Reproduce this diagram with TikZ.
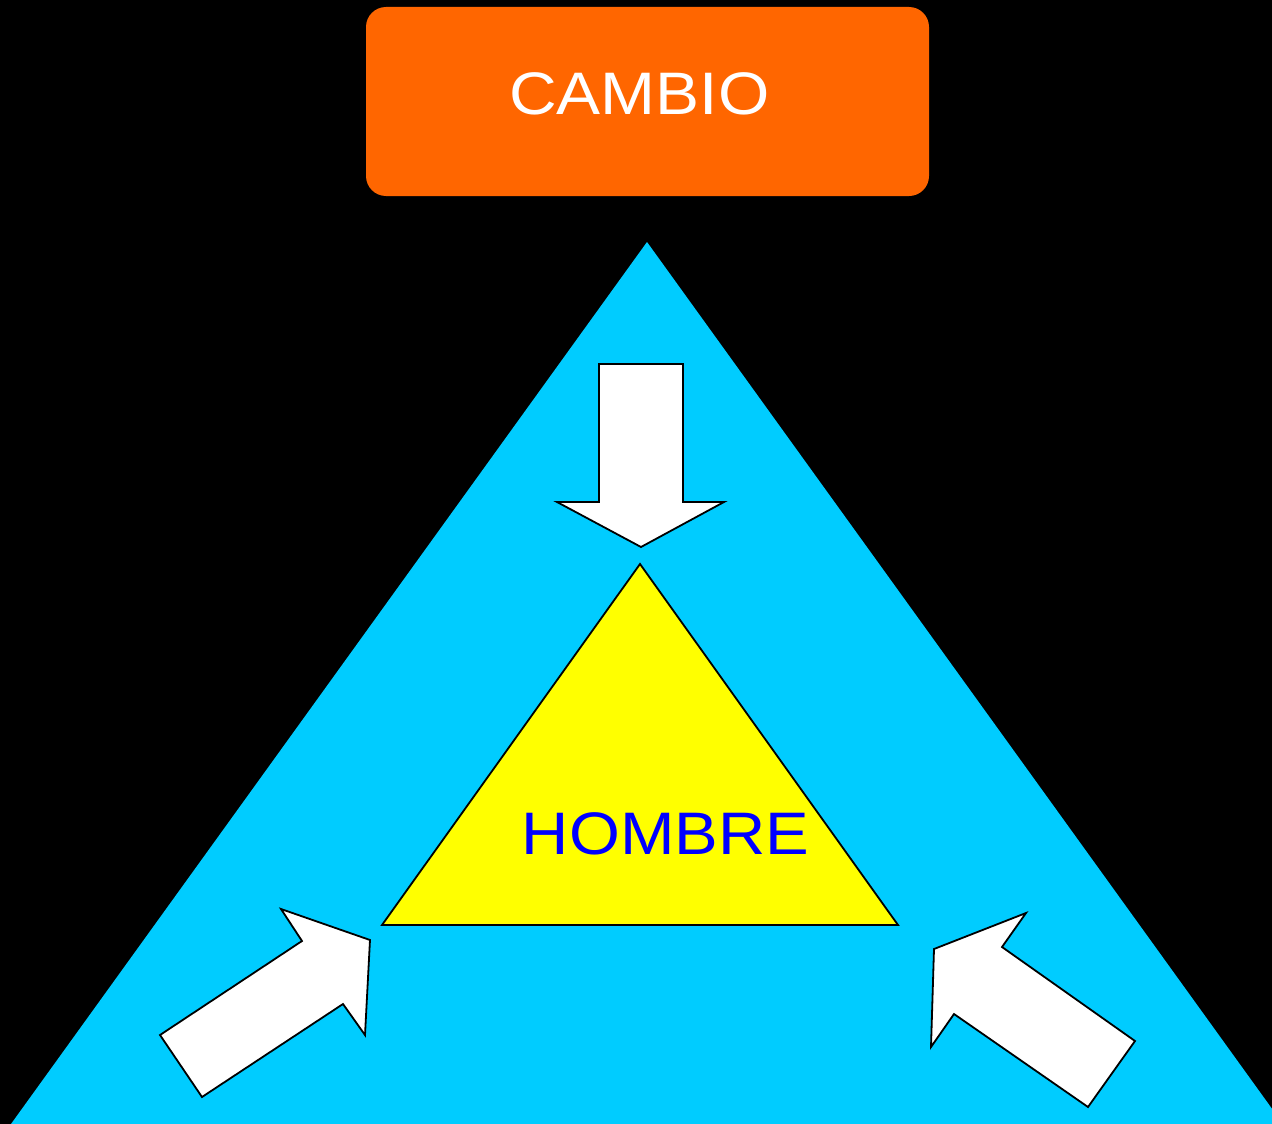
\documentclass[tikz,border=0pt]{standalone}
\usepackage{fontspec}
\usepackage{graphicx}
\setmainfont{Liberation Sans}
\definecolor{skyb}{RGB}{0,204,255}
\definecolor{orng}{RGB}{255,102,0}
\definecolor{yell}{RGB}{255,255,0}
\definecolor{txtblue}{RGB}{0,0,255}
\tikzset{
  arrowshape/.style={fill=white, draw=black, line width=1.8pt, line join=miter},
  labeltext/.style={inner sep=0pt, anchor=base, font=\fontsize{60}{60}\selectfont},
}
\begin{document}
\begin{tikzpicture}[x=1pt,y=-1pt]
\useasboundingbox (0,0) rectangle (1272,1124);
\fill[black] (0,0) rectangle (1272,1124);
\begin{scope}
\clip (0,0) rectangle (1272,1124);
% big blue triangle
\fill[skyb] (647,242) -- (1283,1124) -- (11,1124) -- cycle;
\end{scope}
% orange box
\fill[orng, rounded corners=20pt] (366,7) rectangle (929,196);
\node[labeltext, text=white] (cambio) at (639.5,114) {\scalebox{1.1}[1]{CAMBIO}};
% yellow triangle
\draw[fill=yell, line width=1.8pt, line join=miter] (640,564) -- (898,925) -- (382,925) -- cycle;
\node[labeltext, text=txtblue] (hombre) at (665.5,854) {\scalebox{1.09}[1]{HOMBRE}};
% down arrow
\draw[arrowshape] (599,364) -- (683,364) -- (683,502) -- (724,502) -- (641,547) -- (557,502) -- (599,502) -- cycle;
% lower left arrow
\draw[arrowshape] (160,1035) -- (302,941) -- (281,909) -- (370,940) -- (365,1035) -- (343,1004) -- (202,1097) -- cycle;
% lower right arrow
\draw[arrowshape] (1135,1041) -- (1002,947) -- (1026,913) -- (934,949) -- (931,1047) -- (954,1014) -- (1088,1107) -- cycle;
\end{tikzpicture}
\end{document}
